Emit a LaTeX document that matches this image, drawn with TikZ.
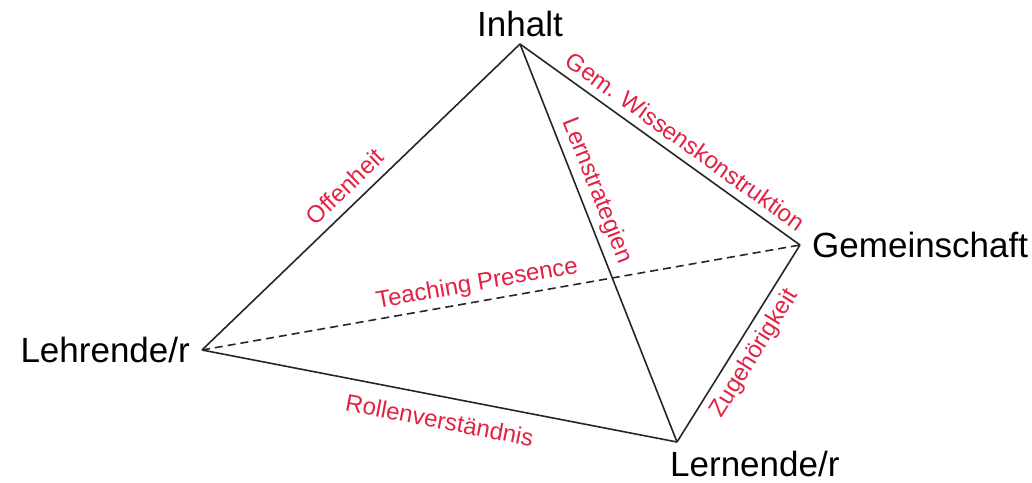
\documentclass[tikz,border=0pt]{standalone}
\usepackage{fontspec}
\setmainfont{Liberation Sans}
\definecolor{relred}{RGB}{226,34,68}
\usepackage{tikz}
\usetikzlibrary{positioning}

\begin{document}
\begin{tikzpicture}[x=1pt, y=-1pt,
          side/.style={draw=black!85, line width=1.6pt},
          hidden/.style={side, dash pattern=on 8pt off 5pt},
          vtx/.style={font=\fontsize{35}{40}\selectfont, text=black, inner sep=0pt},
          rel/.style={font=\fontsize{24}{28}\selectfont, text=relred, sloped}
        ]
          \useasboundingbox (0,0) rectangle (1032,482);
          % corners of the tetrahedron
          \coordinate (inh) at (520,44);
          \coordinate (lehr) at (202,350);
          \coordinate (lern) at (677,442);
          \coordinate (gem) at (800,245);
          \node[vtx, anchor=south, inner sep=7pt] (tinh) at (inh) {Inhalt};
          \node[vtx, anchor=east, xshift=-12pt] (tlehr) at (lehr) {Lehrende/r};
          \node[vtx, anchor=north west, xshift=-7pt, yshift=-9pt] (tlern) at (lern) {Lernende/r};
          \node[vtx, anchor=west, xshift=12pt] (tgem) at (gem) {Gemeinschaft};
          % back edge
          \draw[hidden] (lehr) -- (gem)
            node[rel, pos=0.465, above, inner sep=5pt] (ltp) {Teaching Presence};
          \draw[side] (lehr) -- (inh)
            node[rel, pos=0.49, above, inner sep=9pt] (loff) {Offenheit};
          \draw[side] (inh) -- (gem)
            node[rel, pos=0.555, above, inner sep=8pt] (lwis) {Gem. Wissenskonstruktion};
          \draw[side] (inh) -- (lern)
            node[rel, pos=0.385, above, inner sep=5.5pt] (lstr) {Lernstrategien};
          \draw[side] (lehr) -- (lern)
            node[rel, pos=0.51, below, inner sep=14pt] (lrol) {Rollenverständnis};
          \draw[side] (lern) -- (gem)
            node[rel, pos=0.5, below, inner sep=7pt] (lzug) {Zugehörigkeit};
        \end{tikzpicture}
\end{document}
